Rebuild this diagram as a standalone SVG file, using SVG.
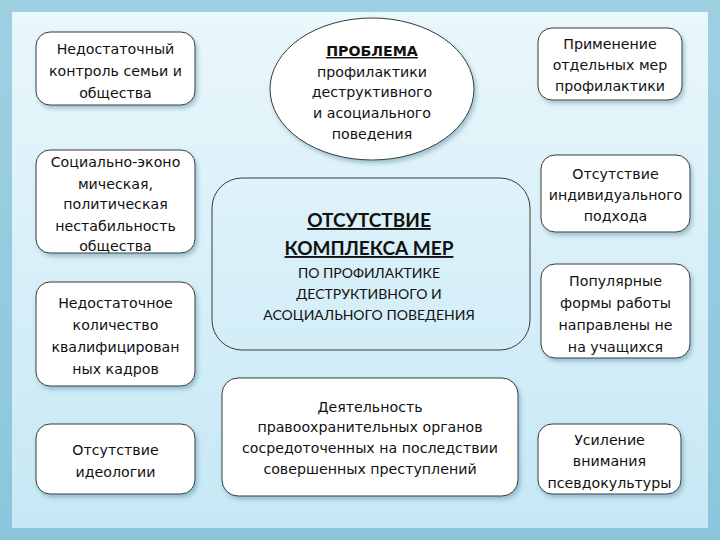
<svg xmlns="http://www.w3.org/2000/svg" width="720" height="540" viewBox="0 0 720 540">
<defs>
<linearGradient id="bg" x1="0" y1="0" x2="0" y2="1"><stop offset="0" stop-color="#9fd0e2"/><stop offset="1" stop-color="#8cc6dc"/></linearGradient>
<linearGradient id="panel" x1="0" y1="0" x2="0" y2="1"><stop offset="0" stop-color="#eaf7fb"/><stop offset="1" stop-color="#c6e8f5"/></linearGradient>
<filter id="sh" x="-10%" y="-10%" width="130%" height="130%"><feDropShadow dx="2" dy="3" stdDeviation="2" flood-color="#5a8fa3" flood-opacity="0.5"/></filter>
</defs>
<style>
.b{fill:#fff;stroke:#3a3a3a;stroke-width:1;filter:url(#sh)}
.t{font-family:"DejaVu Sans",sans-serif;font-size:14.2px;fill:#111;text-anchor:middle}
.c{font-family:Lato,"DejaVu Sans",sans-serif;fill:#111;text-anchor:middle}
</style>
<rect width="720" height="540" fill="url(#bg)"/>
<rect x="12" y="12" width="696" height="516" fill="url(#panel)"/>
<g id="n1"><rect class="b" x="36" y="32" width="159" height="73" rx="14"/>
<text class="t" x="115.5" y="54">Недостаточный</text><text class="t" x="115.5" y="76">контроль семьи и</text><text class="t" x="115.5" y="98">общества</text></g>
<g id="n2"><rect class="b" x="36" y="150" width="159" height="103" rx="14"/>
<text class="t" x="115.5" y="167">Социально-эконо</text><text class="t" x="115.5" y="189">мическая,</text><text class="t" x="115.5" y="209">политическая</text><text class="t" x="115.5" y="231">нестабильность</text><text class="t" x="115.5" y="251">общества</text></g>
<g id="n3"><rect class="b" x="36" y="282" width="159" height="104" rx="14"/>
<text class="t" x="115.5" y="308">Недостаточное</text><text class="t" x="115.5" y="330">количество</text><text class="t" x="115.5" y="352">квалифицирован</text><text class="t" x="115.5" y="374">ных кадров</text></g>
<g id="n4"><rect class="b" x="36" y="424" width="159" height="70" rx="14"/>
<text class="t" x="115.5" y="455">Отсутствие</text><text class="t" x="115.5" y="477">идеологии</text></g>
<g id="n5"><ellipse class="b" cx="372" cy="89" rx="102" ry="71"/>
<text class="t" x="372" y="56" font-weight="bold" text-decoration="underline">ПРОБЛЕМА </text><text class="t" x="372" y="77">профилактики</text><text class="t" x="372" y="97">деструктивного</text><text class="t" x="372" y="118">и асоциального</text><text class="t" x="372" y="139">поведения</text></g>
<g id="n6"><rect x="212" y="178" width="318" height="172" rx="30" fill="none" stroke="#3a3a3a" stroke-width="1"/>
<text class="c" x="369" y="227" font-size="19" font-weight="bold" text-decoration="underline">ОТСУТСТВИЕ</text>
<text class="c" x="369" y="255" font-size="19" font-weight="bold" text-decoration="underline">КОМПЛЕКСА МЕР </text>
<text class="c" x="369" y="278" font-size="14">ПО ПРОФИЛАКТИКЕ</text><text class="c" x="369" y="299" font-size="14">ДЕСТРУКТИВНОГО И</text><text class="c" x="369" y="320" font-size="14">АСОЦИАЛЬНОГО ПОВЕДЕНИЯ</text></g>
<g id="n7"><rect class="b" x="222" y="378" width="296" height="118" rx="16"/>
<text class="t" x="370" y="412">Деятельность</text><text class="t" x="370" y="432">правоохранительных органов</text><text class="t" x="370" y="453">сосредоточенных на последствии</text><text class="t" x="370" y="474">совершенных преступлений</text></g>
<g id="n8"><rect class="b" x="538" y="28" width="144" height="72" rx="14"/>
<text class="t" x="610" y="49">Применение</text><text class="t" x="610" y="70">отдельных мер</text><text class="t" x="610" y="91">профилактики</text></g>
<g id="n9"><rect class="b" x="541" y="155" width="149" height="77" rx="14"/>
<text class="t" x="615.5" y="179">Отсутствие</text><text class="t" x="615.5" y="200">индивидуального</text><text class="t" x="615.5" y="221">подхода</text></g>
<g id="n10"><rect class="b" x="541" y="264" width="149" height="94" rx="14"/>
<text class="t" x="615.5" y="286">Популярные</text><text class="t" x="615.5" y="308">формы работы</text><text class="t" x="615.5" y="330">направлены не</text><text class="t" x="615.5" y="352">на учащихся</text></g>
<g id="n11"><rect class="b" x="538" y="424" width="143" height="70" rx="14"/>
<text class="t" x="609.5" y="445">Усиление</text><text class="t" x="609.5" y="466">внимания</text><text class="t" x="609.5" y="488">псевдокультуры</text></g>
<g id="connectors"/>
</svg>
